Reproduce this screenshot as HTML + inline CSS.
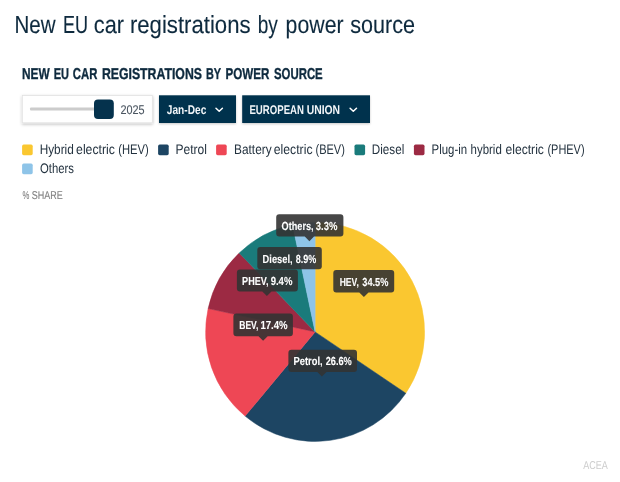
<!DOCTYPE html>
<html lang="en"><head><meta charset="utf-8"><title>New EU car registrations by power source</title>
<style>html,body{margin:0;padding:0;background:#fff}body{width:620px;height:482px;overflow:hidden}svg{display:block;font-family:"Liberation Sans", sans-serif;text-rendering:geometricPrecision}</style></head><body>
<svg width="620" height="482" viewBox="0 0 620 482">
<defs><filter id="sh" x="-10%" y="-20%" width="120%" height="150%"><feDropShadow dx="0" dy="1" stdDeviation="1.2" flood-color="#000" flood-opacity="0.22"/></filter><filter id="sh2" x="-10%" y="-30%" width="120%" height="170%"><feDropShadow dx="0" dy="1.2" stdDeviation="1.4" flood-color="#000" flood-opacity="0.28"/></filter></defs>
<rect width="620" height="482" fill="#fff"/>
<text y="33.00" font-size="24.79" font-weight="400" fill="#0e2a3e" stroke="#0e2a3e" stroke-width="0.12"><tspan x="14.41" textLength="41.08" lengthAdjust="spacingAndGlyphs">New</tspan> <tspan x="62.92" textLength="25.07" lengthAdjust="spacingAndGlyphs">EU</tspan> <tspan x="93.77" textLength="30.22" lengthAdjust="spacingAndGlyphs">car</tspan> <tspan x="129.92" textLength="120.67" lengthAdjust="spacingAndGlyphs">registrations</tspan> <tspan x="257.65" textLength="20.14" lengthAdjust="spacingAndGlyphs">by</tspan> <tspan x="285.61" textLength="57.96" lengthAdjust="spacingAndGlyphs">power</tspan> <tspan x="350.17" textLength="64.81" lengthAdjust="spacingAndGlyphs">source</tspan></text>
<text y="79.00" font-size="15.70" font-weight="700" fill="#0e2a3e" stroke="#0e2a3e" stroke-width="0.35"><tspan x="21.91" textLength="27.71" lengthAdjust="spacingAndGlyphs">NEW</tspan> <tspan x="53.76" textLength="15.31" lengthAdjust="spacingAndGlyphs">EU</tspan> <tspan x="72.83" textLength="24.53" lengthAdjust="spacingAndGlyphs">CAR</tspan> <tspan x="101.88" textLength="100.09" lengthAdjust="spacingAndGlyphs">REGISTRATIONS</tspan> <tspan x="205.88" textLength="14.91" lengthAdjust="spacingAndGlyphs">BY</tspan> <tspan x="225.52" textLength="43.86" lengthAdjust="spacingAndGlyphs">POWER</tspan> <tspan x="273.96" textLength="48.77" lengthAdjust="spacingAndGlyphs">SOURCE</tspan></text>
<rect x="22.3" y="95.6" width="130" height="27.2" fill="#fff" stroke="#e3e3e3" stroke-width="0.8" filter="url(#sh2)"/>
<rect x="30" y="107.4" width="70" height="3.2" rx="1" fill="#cccccc"/>
<rect x="94" y="99.4" width="19.8" height="19.6" rx="4" fill="#05324d"/>
<text y="114.00" font-size="12.60" font-weight="400" fill="#4a5560" stroke="#4a5560" stroke-width="0.1"><tspan x="120.45" textLength="24.22" lengthAdjust="spacingAndGlyphs">2025</tspan></text>
<rect x="159" y="95.3" width="77" height="27.7" fill="#05324d" filter="url(#sh)"/>
<text y="114.00" font-size="12.60" font-weight="700" fill="#f2f6f9"><tspan x="166.83" textLength="39.48" lengthAdjust="spacingAndGlyphs">Jan-Dec</tspan></text>
<path d="M216.0 108.2 L219.2 111.3 L222.4 108.2" fill="none" stroke="#fff" stroke-width="1.5" stroke-linecap="round" stroke-linejoin="round"/>
<rect x="242.2" y="95.3" width="127.8" height="27.7" fill="#05324d" filter="url(#sh)"/>
<text y="114.00" font-size="12.60" font-weight="700" fill="#f2f6f9"><tspan x="249.46" textLength="54.49" lengthAdjust="spacingAndGlyphs">EUROPEAN</tspan> <tspan x="306.68" textLength="33.42" lengthAdjust="spacingAndGlyphs">UNION</tspan></text>
<path d="M350.1 108.2 L353.3 111.3 L356.5 108.2" fill="none" stroke="#fff" stroke-width="1.5" stroke-linecap="round" stroke-linejoin="round"/>
<rect x="22.1" y="144.6" width="10.6" height="10.6" rx="1.6" fill="#fac730"/>
<text y="154.00" font-size="13.84" font-weight="400" fill="#23323f"><tspan x="39.63" textLength="34.16" lengthAdjust="spacingAndGlyphs">Hybrid</tspan> <tspan x="76.07" textLength="38.87" lengthAdjust="spacingAndGlyphs">electric</tspan> <tspan x="118.30" textLength="30.49" lengthAdjust="spacingAndGlyphs">(HEV)</tspan></text>
<rect x="158.1" y="144.6" width="10.6" height="10.6" rx="1.6" fill="#1d4563"/>
<text y="154.00" font-size="13.84" font-weight="400" fill="#23323f"><tspan x="175.41" textLength="31.50" lengthAdjust="spacingAndGlyphs">Petrol</tspan></text>
<rect x="216.1" y="144.6" width="10.6" height="10.6" rx="1.6" fill="#ee4755"/>
<text y="154.00" font-size="13.84" font-weight="400" fill="#23323f"><tspan x="234.02" textLength="37.63" lengthAdjust="spacingAndGlyphs">Battery</tspan> <tspan x="273.67" textLength="38.87" lengthAdjust="spacingAndGlyphs">electric</tspan> <tspan x="315.51" textLength="29.36" lengthAdjust="spacingAndGlyphs">(BEV)</tspan></text>
<rect x="354.5" y="144.6" width="10.6" height="10.6" rx="1.6" fill="#1a7b7b"/>
<text y="154.00" font-size="13.84" font-weight="400" fill="#23323f"><tspan x="371.84" textLength="32.43" lengthAdjust="spacingAndGlyphs">Diesel</tspan></text>
<rect x="413.9" y="144.6" width="10.6" height="10.6" rx="1.6" fill="#9c2a43"/>
<text y="154.00" font-size="13.84" font-weight="400" fill="#23323f"><tspan x="431.56" textLength="35.57" lengthAdjust="spacingAndGlyphs">Plug-in</tspan> <tspan x="470.61" textLength="31.15" lengthAdjust="spacingAndGlyphs">hybrid</tspan> <tspan x="505.48" textLength="38.46" lengthAdjust="spacingAndGlyphs">electric</tspan> <tspan x="547.42" textLength="37.18" lengthAdjust="spacingAndGlyphs">(PHEV)</tspan></text>
<rect x="22.1" y="163.6" width="10.6" height="10.6" rx="1.6" fill="#8ec4e8"/>
<text y="173.00" font-size="13.84" font-weight="400" fill="#23323f"><tspan x="39.96" textLength="33.96" lengthAdjust="spacingAndGlyphs">Others</tspan></text>
<text y="199.00" font-size="11.36" font-weight="400" fill="#808080" stroke="#808080" stroke-width="0.1"><tspan x="22.62" textLength="6.85" lengthAdjust="spacingAndGlyphs">%</tspan> <tspan x="31.77" textLength="31.03" lengthAdjust="spacingAndGlyphs">SHARE</tspan></text>
<path d="M315.1 331.9 L315.10 222.40 A109.5 109.5 0 0 1 405.80 393.25 Z" fill="#fac730" stroke="#fac730" stroke-width="0.5" stroke-linejoin="round"/>
<path d="M315.1 331.9 L405.80 393.25 A109.5 109.5 0 0 1 245.10 416.10 Z" fill="#1d4563" stroke="#1d4563" stroke-width="0.5" stroke-linejoin="round"/>
<path d="M315.1 331.9 L245.10 416.10 A109.5 109.5 0 0 1 208.12 308.54 Z" fill="#ee4755" stroke="#ee4755" stroke-width="0.5" stroke-linejoin="round"/>
<path d="M315.1 331.9 L208.12 308.54 A109.5 109.5 0 0 1 239.21 252.97 Z" fill="#9c2a43" stroke="#9c2a43" stroke-width="0.5" stroke-linejoin="round"/>
<path d="M315.1 331.9 L239.21 252.97 A109.5 109.5 0 0 1 292.58 224.74 Z" fill="#1a7b7b" stroke="#1a7b7b" stroke-width="0.5" stroke-linejoin="round"/>
<path d="M315.1 331.9 L292.58 224.74 A109.5 109.5 0 0 1 315.10 222.40 Z" fill="#8ec4e8" stroke="#8ec4e8" stroke-width="0.5" stroke-linejoin="round"/>
<g><path d="M279.2 214.3 H340.4 Q343.4 214.3 343.4 217.3 V233.6 Q343.4 236.6 340.4 236.6 H314.0 L309.4 241.2 L304.8 236.6 H279.2 Q276.2 236.6 276.2 233.6 V217.3 Q276.2 214.3 279.2 214.3 Z" fill="#333" fill-opacity="0.9"/>
<text y="230.00" font-size="11.67" font-weight="700" fill="#fff" stroke="#fff" stroke-width="0.1"><tspan x="281.62" textLength="32.00" lengthAdjust="spacingAndGlyphs">Others,</tspan> <tspan x="315.77" textLength="21.68" lengthAdjust="spacingAndGlyphs">3.3%</tspan></text>
</g>
<g><path d="M260.3 247.0 H318.8 Q321.8 247.0 321.8 250.0 V266.3 Q321.8 269.3 318.8 269.3 H289.5 L289.5 269.3 L289.5 269.3 H260.3 Q257.3 269.3 257.3 266.3 V250.0 Q257.3 247.0 260.3 247.0 Z" fill="#333" fill-opacity="0.9"/>
<text y="263.00" font-size="11.67" font-weight="700" fill="#fff" stroke="#fff" stroke-width="0.1"><tspan x="262.58" textLength="30.04" lengthAdjust="spacingAndGlyphs">Diesel,</tspan> <tspan x="295.71" textLength="20.53" lengthAdjust="spacingAndGlyphs">8.9%</tspan></text>
</g>
<g><path d="M239.9 269.4 H294.9 Q297.9 269.4 297.9 272.4 V288.4 Q297.9 291.4 294.9 291.4 H271.5 L266.9 296.0 L262.3 291.4 H239.9 Q236.9 291.4 236.9 288.4 V272.4 Q236.9 269.4 239.9 269.4 Z" fill="#333" fill-opacity="0.9"/>
<text y="285.00" font-size="11.67" font-weight="700" fill="#fff" stroke="#fff" stroke-width="0.1"><tspan x="242.09" textLength="26.51" lengthAdjust="spacingAndGlyphs">PHEV,</tspan> <tspan x="270.67" textLength="21.69" lengthAdjust="spacingAndGlyphs">9.4%</tspan></text>
</g>
<g><path d="M336.3 270.1 H391.2 Q394.2 270.1 394.2 273.1 V289.5 Q394.2 292.5 391.2 292.5 H368.5 L363.9 297.1 L359.3 292.5 H336.3 Q333.3 292.5 333.3 289.5 V273.1 Q333.3 270.1 336.3 270.1 Z" fill="#333" fill-opacity="0.9"/>
<text y="286.00" font-size="11.67" font-weight="700" fill="#fff" stroke="#fff" stroke-width="0.1"><tspan x="339.63" textLength="19.14" lengthAdjust="spacingAndGlyphs">HEV,</tspan> <tspan x="362.28" textLength="26.06" lengthAdjust="spacingAndGlyphs">34.5%</tspan></text>
</g>
<g><path d="M236.4 313.6 H289.9 Q292.9 313.6 292.9 316.6 V333.2 Q292.9 336.2 289.9 336.2 H267.7 L263.1 340.8 L258.5 336.2 H236.4 Q233.4 336.2 233.4 333.2 V316.6 Q233.4 313.6 236.4 313.6 Z" fill="#333" fill-opacity="0.9"/>
<text y="329.00" font-size="11.67" font-weight="700" fill="#fff" stroke="#fff" stroke-width="0.1"><tspan x="239.23" textLength="19.14" lengthAdjust="spacingAndGlyphs">BEV,</tspan> <tspan x="260.39" textLength="27.25" lengthAdjust="spacingAndGlyphs">17.4%</tspan></text>
</g>
<g><path d="M291.4 349.8 H354.0 Q357.0 349.8 357.0 352.8 V369.0 Q357.0 372.0 354.0 372.0 H326.5 L321.9 376.6 L317.3 372.0 H291.4 Q288.4 372.0 288.4 369.0 V352.8 Q288.4 349.8 291.4 349.8 Z" fill="#333" fill-opacity="0.9"/>
<text y="365.00" font-size="11.67" font-weight="700" fill="#fff" stroke="#fff" stroke-width="0.1"><tspan x="293.58" textLength="29.04" lengthAdjust="spacingAndGlyphs">Petrol,</tspan> <tspan x="325.68" textLength="26.16" lengthAdjust="spacingAndGlyphs">26.6%</tspan></text>
</g>
<text y="469.00" font-size="11.36" font-weight="400" fill="#cccccc"><tspan x="583.16" textLength="24.59" lengthAdjust="spacingAndGlyphs">ACEA</tspan></text>
</svg></body></html>
